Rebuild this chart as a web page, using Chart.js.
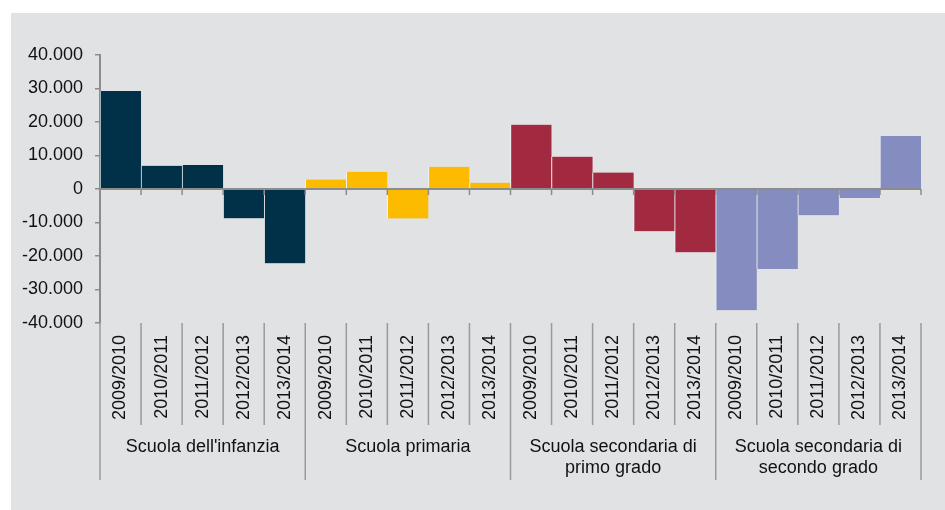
<!DOCTYPE html>
<html>
<head>
<meta charset="utf-8">
<script src="https://cdn.jsdelivr.net/npm/chart.js@4.4.1/dist/chart.umd.min.js"></script>
<style>
  html, body { margin: 0; padding: 0; background: #fff; }
  #panel { position: absolute; left: 11px; top: 13px; width: 934px; height: 497px; background: #e1e2e4; }
  #chart { position: absolute; left: 0; top: 0; }
</style>
</head>
<body>
<div id="panel"></div>
<canvas id="chart" width="945" height="510"></canvas>
<script>
// ── DATA ──────────────────────────────
const years = ['2009/2010', '2010/2011', '2011/2012', '2012/2013', '2013/2014'];
const groups = [
  "Scuola dell'infanzia",
  'Scuola primaria',
  ['Scuola secondaria di', 'primo grado'],
  ['Scuola secondaria di', 'secondo grado'],
];
const infanzia   = [29250, 6950, 7150, -8750, -22200];
const primaria   = [2800, 5150, -8800, 6650, 1900];
const primoGrado = [19200, 9650, 4900, -12600, -18900];
const secondoGrado = [-36200, -23900, -7800, -2700, 15800];

const yTicks = { min: -40000, max: 40000, step: 10000 };

const COLORS = ['#003149', '#FDBB00', '#A22A40', '#848CC0'];
const AXIS_GREY = '#8c8c8c';

// ── BUILD ─────────────────────────────
const series = [infanzia, primaria, primoGrado, secondoGrado];
const labels = series.flatMap(() => years);
const values = series.flat();
const barColors = series.flatMap((s, g) => s.map(() => COLORS[g]));
const groupLabels = series.flatMap((s, g) => s.map((_, i) => i === 2 ? groups[g] : ''));

function formatIt(v) {
  const s = Math.abs(v).toString().replace(/\B(?=(\d{3})+(?!\d))/g, '.');
  return (v < 0 ? '-' : '') + s;
}

// zero line, ticks on it, and category separators below the plot
const axisDecor = {
  id: 'axisDecor',
  afterDatasetsDraw(chart) {
    const { ctx, chartArea } = chart;
    const x = chart.scales.x, y = chart.scales.y;
    const y0 = y.getPixelForValue(0);
    const step = x.getPixelForValue(1) - x.getPixelForValue(0);
    ctx.save();
    ctx.strokeStyle = AXIS_GREY;
    ctx.lineWidth = 2;
    ctx.beginPath();
    ctx.moveTo(chartArea.left, y0);
    ctx.lineTo(chartArea.right, y0);
    ctx.stroke();
    ctx.lineWidth = 1.5;
    for (let i = 0; i <= labels.length; i++) {
      const bx = x.getPixelForValue(0) - step / 2 + i * step;
      ctx.beginPath();
      ctx.moveTo(bx, y0);
      ctx.lineTo(bx, y0 + 6);
      ctx.stroke();
    }
    ctx.restore();
  },
  afterDraw(chart) {
    const { ctx, chartArea } = chart;
    const x = chart.scales.x;
    const step = x.getPixelForValue(1) - x.getPixelForValue(0);
    ctx.save();
    ctx.strokeStyle = '#9a9a9a';
    ctx.lineWidth = 1.5;
    for (let i = 0; i <= labels.length; i++) {
      const bx = x.getPixelForValue(0) - step / 2 + i * step;
      const len = i % years.length === 0 ? 157 : 102;
      ctx.beginPath();
      ctx.moveTo(bx, chartArea.bottom);
      ctx.lineTo(bx, chartArea.bottom + len);
      ctx.stroke();
    }
    ctx.restore();
  },
};

Chart.defaults.font.family = '"Liberation Sans", Arial, sans-serif';
Chart.defaults.font.size = 18;
Chart.defaults.color = '#111';

new Chart(document.getElementById('chart'), {
  type: 'bar',
  data: {
    labels,
    datasets: [{
      data: values,
      backgroundColor: barColors,
      borderColor: '#f2f2f2',
      borderWidth: { left: 1, right: 0, top: 0, bottom: 0 },
      borderSkipped: false,
      barPercentage: 1,
      categoryPercentage: 1,
    }],
  },
  options: {
    responsive: false,
    animation: false,
    layout: { padding: { left: 0, right: 24, top: 55, bottom: 27 } },
    plugins: { legend: { display: false }, tooltip: { enabled: false } },
    scales: {
      y: {
        min: yTicks.min,
        max: yTicks.max,
        afterFit: s => { s.width = 100; },
        ticks: { stepSize: yTicks.step, padding: 12, callback: v => formatIt(v) },
        grid: { drawOnChartArea: false, tickLength: 5, color: AXIS_GREY, lineWidth: 1.5 },
        border: { color: AXIS_GREY, width: 2 },
      },
      x: {
        afterFit: s => { s.height = 100; },
        ticks: { autoSkip: false, maxRotation: 90, minRotation: 90, padding: 12 },
        grid: { display: false, drawTicks: false },
        border: { display: false },
      },
      xg: {
        type: 'category',
        position: 'bottom',
        labels: groupLabels,
        offset: true,
        afterFit: s => { s.height = 60; },
        ticks: { autoSkip: false, maxRotation: 0, minRotation: 0, padding: 14,
                 font: { lineHeight: 1.14 } },
        grid: { display: false, drawTicks: false },
        border: { display: false },
      },
    },
  },
  plugins: [axisDecor],
});
</script>
</body>
</html>
